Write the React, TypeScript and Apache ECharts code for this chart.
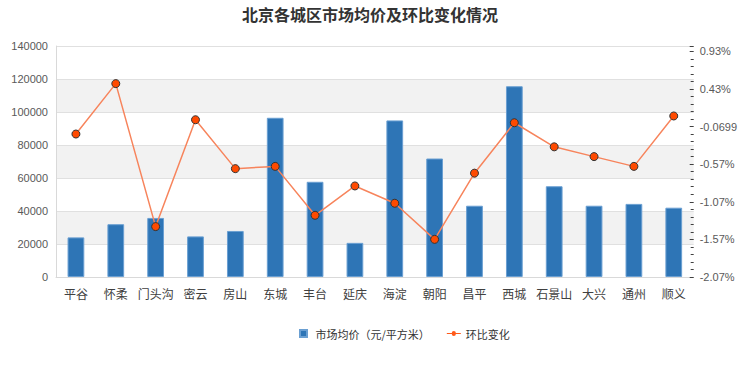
import React, { useEffect, useRef } from "react";
import * as echarts from "echarts";

const districts = ["平谷", "怀柔", "门头沟", "密云", "房山", "东城", "丰台", "延庆", "海淀", "朝阳", "昌平", "西城", "石景山", "大兴", "通州", "顺义"];
const avgPrice = [24000, 32000, 35800, 24600, 27900, 96500, 57700, 20700, 94900, 71800, 43200, 115600, 55000, 43200, 44300, 42000];
const momChange = [-0.17, 0.5, -1.4, 0.02, -0.63, -0.6, -1.25, -0.86, -1.09, -1.57, -0.69, -0.02, -0.34, -0.47, -0.6, 0.07];
const leftTicks = { min: 0, max: 140000, interval: 20000 };
const rightBase = -2.07;
const rightTickLabels = ["-2.07%", "-1.57%", "-1.07%", "-0.57%", "-0.0699", "0.43%", "0.93%"];

export default function App() {
  const ref = useRef<HTMLDivElement>(null);
  useEffect(() => {
    document.body.style.margin = "0";
    const chart = echarts.init(ref.current!, null, { renderer: "svg" });
    chart.setOption({
      animation: false,
      backgroundColor: "#ffffff",
      title: {
        text: "北京各城区市场均价及环比变化情况",
        left: "center",
        top: 1,
        textStyle: { fontSize: 16, fontWeight: 600, color: "#333333", fontFamily: "Noto Sans CJK SC" },
      },
      legend: {
        top: 323,
        left: 294,
        itemGap: 17,
        itemWidth: 14,
        itemHeight: 7,
        textStyle: { fontSize: 11, color: "#333333", fontFamily: "Noto Sans CJK SC" },
        data: [
          { name: "市场均价（元/平方米）", icon: "path://M0,0H10V10H0Z" },
          {
            name: "环比变化",
            icon: "path://M0,2.5H4.6A1.8,1.8 0 0 1 8.4,2.5H13V3.5H8.4A1.8,1.8 0 0 1 4.6,3.5H0Z",
            itemStyle: { color: "#ff5a1a", borderWidth: 0 },
          },
        ],
      },
      grid: { left: 56, right: 46, top: 46, bottom: 93 },
      xAxis: {
        type: "category",
        data: districts,
        boundaryGap: true,
        axisLine: { lineStyle: { color: "#d9d9d9" } },
        axisTick: { show: false },
        axisLabel: { color: "#404040", fontSize: 12, margin: 10, interval: 0, fontFamily: "Noto Sans CJK SC" },
      },
      yAxis: [
        {
          type: "value",
          min: leftTicks.min,
          max: leftTicks.max,
          interval: leftTicks.interval,
          axisLine: { show: true, lineStyle: { color: "#d9d9d9" } },
          axisTick: { show: false },
          axisLabel: { color: "#595959", fontSize: 11, margin: 8, formatter: (v: number) => String(v) },
          splitLine: { lineStyle: { color: "#e0e0e0" } },
          splitArea: { show: true, areaStyle: { color: ["#ffffff", "#f2f2f2"] } },
        },
        {
          type: "value",
          position: "right",
          min: 0,
          max: 3.07,
          interval: 0.5,
          axisLine: { show: false },
          axisTick: { show: true, inside: true, length: 4, lineStyle: { color: "#404040" } },
          minorTick: { show: true, splitNumber: 5, length: 3, lineStyle: { color: "#404040" } },
          splitLine: { show: false },
          axisLabel: {
            color: "#595959",
            fontSize: 11,
            margin: 6,
            formatter: (v: number) => {
              const i = Math.round(v / 0.5);
              if (Math.abs(v - i * 0.5) > 1e-6) return "";
              return rightTickLabels[i] ?? "";
            },
          },
        },
      ],
      series: [
        {
          name: "市场均价（元/平方米）",
          type: "bar",
          data: avgPrice,
          barWidth: "42%",
          itemStyle: { color: "#2e75b6", borderColor: "#6a9fd2", borderWidth: 1 },
        },
        {
          name: "环比变化",
          type: "line",
          yAxisIndex: 1,
          data: momChange.map((v) => +(v - rightBase).toFixed(4)),
          symbol: "circle",
          symbolSize: 8,
          lineStyle: { color: "#f7845c", width: 1.5 },
          itemStyle: { color: "#ff4a00", borderColor: "#333333", borderWidth: 1 },
        },
      ],
    });
    return () => chart.dispose();
  }, []);
  return <div ref={ref} style={{ width: 740, height: 370 }} />;
}
